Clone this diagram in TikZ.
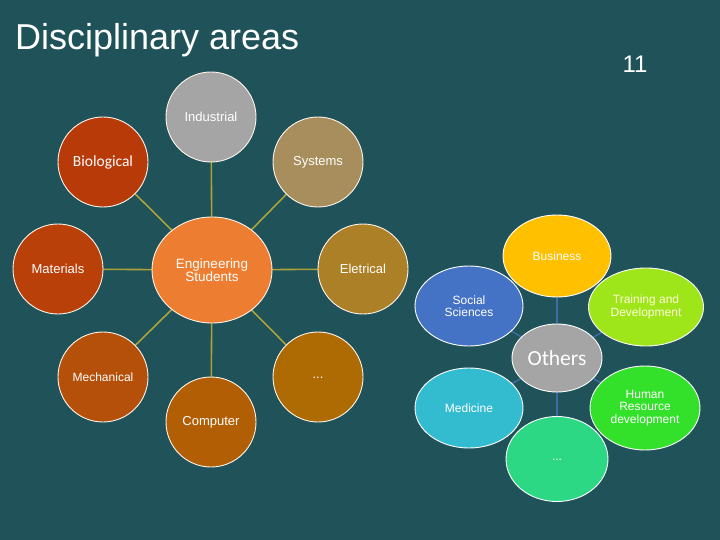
\documentclass[tikz,border=0pt]{standalone}
\usepackage{fontspec}
\setmainfont{Liberation Sans}
\newfontfamily\carl{Carlito}
\usetikzlibrary{shapes.geometric}
\definecolor{bg}{RGB}{31,82,89}
\definecolor{lineA}{RGB}{170,162,58}
\definecolor{lineB}{RGB}{62,108,160}
\definecolor{cInd}{RGB}{165,165,165}
\definecolor{cSys}{RGB}{168,142,92}
\definecolor{cBio}{RGB}{184,58,8}
\definecolor{cMat}{RGB}{185,64,9}
\definecolor{cEle}{RGB}{172,128,38}
\definecolor{cMec}{RGB}{181,80,10}
\definecolor{cCom}{RGB}{178,94,5}
\definecolor{cDot}{RGB}{174,107,3}
\definecolor{cEng}{RGB}{237,125,49}
\definecolor{cBus}{RGB}{255,192,0}
\definecolor{cSoc}{RGB}{68,114,196}
\definecolor{cTra}{RGB}{158,230,26}
\definecolor{cMed}{RGB}{51,188,208}
\definecolor{cHum}{RGB}{51,224,42}
\definecolor{cDt2}{RGB}{44,216,132}
\definecolor{cOth}{RGB}{165,165,165}
\tikzset{
  disc/.style={circle, draw=white!92!orange, line width=0.9pt, minimum size=90pt, inner sep=0pt,
    text=white, font=\fontsize{13}{13}\selectfont, align=center},
  oval/.style={ellipse, draw=white, line width=0.9pt, inner sep=0pt,
    text=white, font=\fontsize{12}{12.5}\selectfont, align=center},
  linkA/.style={draw=lineA, line width=1.6pt},
  linkB/.style={draw=lineB, line width=1.5pt},
}
\begin{document}
\begin{tikzpicture}[x=1pt,y=-1pt]
\fill[bg] (0,0) rectangle (720,540);
\useasboundingbox (0,0) rectangle (720,540);
\node[anchor=base west, text=white, font=\fontsize{36}{36}\selectfont, inner sep=0pt] (title) at (15,50) {Disciplinary areas};
\node[anchor=base, text=white, font=\fontsize{24}{24}\selectfont, inner sep=0pt] (num) at (635,73) {11};
% left diagram
\coordinate (ce) at (212,270);
\coordinate (pInd) at (211,117);
\coordinate (pSys) at (318,162);
\coordinate (pBio) at (103,162);
\coordinate (pMat) at (58,269);
\coordinate (pEle) at (363,269);
\coordinate (pMec) at (103,377);
\coordinate (pDot) at (318,377);
\coordinate (pCom) at (211,422);
\foreach \p in {pInd,pSys,pBio,pMat,pEle,pMec,pDot,pCom} \draw[linkA] (ce) -- (\p);
\node[disc, fill=cInd] (ind) at (pInd) {Industrial};
\node[disc, fill=cSys] (sys) at (pSys) {Systems};
\node[disc, fill=cBio, font=\carl\fontsize{15.5}{16}\selectfont] (bio) at (pBio) {Biological};
\node[disc, fill=cMat] (mat) at (pMat) {Materials};
\node[disc, fill=cEle] (ele) at (pEle) {Eletrical};
\node[disc, fill=cMec, font=\fontsize{12}{12}\selectfont] (mec) at (pMec) {Mechanical};
\node[disc, fill=cDot] (dot) at (pDot) {\raisebox{-3pt}{...}};
\node[disc, fill=cCom] (com) at (pCom) {Computer};
\node[ellipse, draw=white!92!orange, line width=0.9pt, inner sep=0pt, minimum width=120pt, minimum height=106pt,
  fill=cEng, text=white, align=center, font=\fontsize{13.5}{13}\selectfont] (eng) at (ce) {Engineering\\Students};
% right diagram
\coordinate (co) at (557,358);
\coordinate (qBus) at (557,256);
\coordinate (qSoc) at (469,306);
\coordinate (qTra) at (646,307);
\coordinate (qMed) at (469,408);
\coordinate (qHum) at (645,408);
\coordinate (qDot) at (557,459);
\foreach \p in {qBus,qSoc,qTra,qMed,qHum,qDot} \draw[linkB] (co) -- (\p);
\node[oval, fill=cBus, minimum width=108pt, minimum height=82pt] (bus) at (qBus) {Business};
\node[oval, fill=cSoc, minimum width=108pt, minimum height=80pt] (soc) at (qSoc) {Social\\Sciences};
\node[oval, fill=cTra, minimum width=115pt, minimum height=78pt, text=white!85!yellow] (tra) at (qTra) {Training and\\Development};
\node[oval, fill=cMed, minimum width=108pt, minimum height=80pt] (med) at (qMed) {Medicine};
\node[oval, fill=cHum, minimum width=110pt, minimum height=84pt] (hum) at (qHum) {Human\\Resource\\development};
\node[oval, fill=cDt2, minimum width=102pt, minimum height=85pt] (dt2) at (qDot) {\raisebox{-3pt}{...}};
\node[oval, fill=cOth, minimum width=90pt, minimum height=68pt, font=\carl\fontsize{21.5}{22}\selectfont] (oth) at (co) {Others};
\end{tikzpicture}
\end{document}
